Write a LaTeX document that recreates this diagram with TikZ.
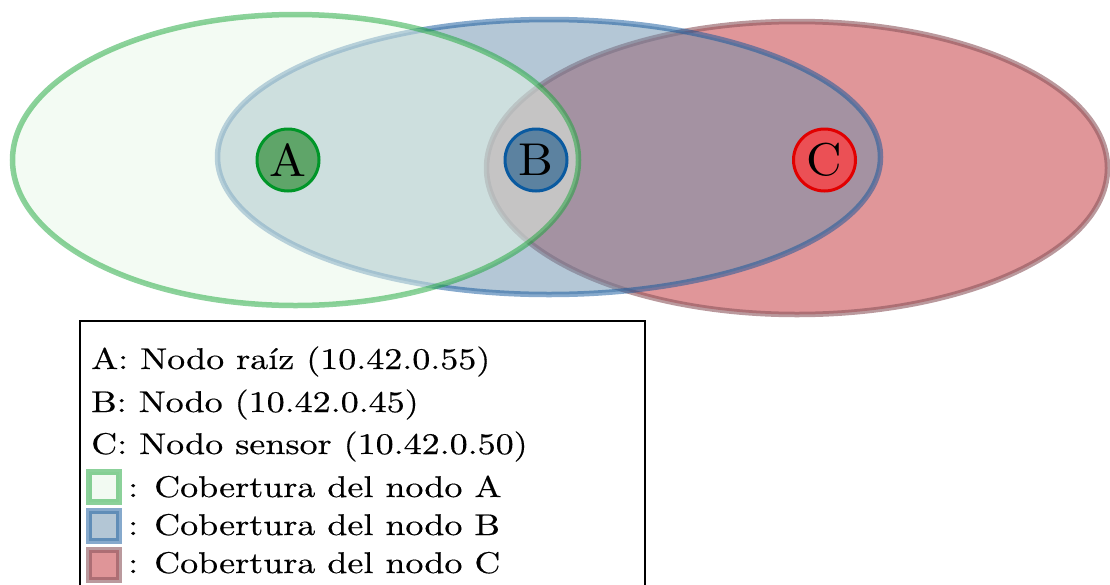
\documentclass[tikz,border=0pt]{standalone}
\usepackage{fontspec}
\setmainfont{lmroman10-regular.otf}[FakeStretch=1.2,FakeBold=0.4]
\newfontfamily\letterfont{lmroman10-regular.otf}[FakeStretch=1.07]
\usetikzlibrary{shapes.geometric}

% coverage colours
\definecolor{fillA}{RGB}{231,247,231}
\definecolor{drawA}{RGB}{25,165,55}
\definecolor{fillB}{RGB}{105,143,173}
\definecolor{drawB}{RGB}{15,85,155}
\definecolor{fillC}{RGB}{193,45,51}
\definecolor{drawC}{RGB}{140,85,92}
% node colours
\definecolor{nodeAfill}{RGB}{95,165,105}
\definecolor{nodeAdraw}{RGB}{0,150,40}
\definecolor{nodeBfill}{RGB}{92,130,160}
\definecolor{nodeBdraw}{RGB}{10,90,160}
\definecolor{nodeCfill}{RGB}{235,80,85}
\definecolor{nodeCdraw}{RGB}{225,0,0}

\begin{document}
\begin{tikzpicture}[x=1pt,y=-1pt,
  cover/.style={line width=5.5pt, fill opacity=0.5, draw opacity=0.5},
  coverA/.style={cover, fill=fillA, draw=drawA},
  coverB/.style={cover, fill=fillB, draw=drawB},
  coverC/.style={cover, fill=fillC, draw=drawC, draw opacity=0.6},
  swatch/.style={line width=6pt},
  netnode/.style={circle, line width=3pt, minimum size=62pt, inner sep=0pt,
    font=\letterfont\fontsize{46}{46}\selectfont},
  legendtext/.style={anchor=base west, inner sep=0pt,
    font=\fontsize{30}{36}\selectfont}]
\useasboundingbox (0,0) rectangle (1110,584);
\clip (0,0) rectangle (1110,584);

% coverage areas, drawn from C to A
\path[coverC] (797,168) ellipse [x radius=310.5pt, y radius=146.5pt];
\path[coverB] (549,157) ellipse [x radius=331.5pt, y radius=137.5pt];
\path[coverA] (295.5,160) ellipse [x radius=283pt, y radius=145.5pt];

% network nodes
\node[netnode, fill=nodeAfill, draw=nodeAdraw] (A) at (288,160) {A};
\node[netnode, fill=nodeBfill, draw=nodeBdraw] (B) at (536,160) {B};
\node[netnode, fill=nodeCfill, draw=nodeCdraw] (C) at (824.5,160) {C};

% legend
\draw[line width=1.5pt, fill=white] (80,321) rectangle (645,640);
\node[legendtext] (l1) at (91,369) {A: Nodo raíz (10.42.0.55)};
\node[legendtext] (l2) at (91,412) {B: Nodo (10.42.0.45)};
\node[legendtext] (l3) at (91,454) {C: Nodo sensor (10.42.0.50)};
\path[coverA, swatch] (89,472) rectangle (118.5,501.5);
\path[coverB, swatch] (89,511) rectangle (118.5,540.5);
\path[coverC, swatch] (89,550) rectangle (118.5,579.5);
\node[legendtext] (l4) at (128,497) {: Cobertura del nodo A};
\node[legendtext] (l5) at (128,535) {: Cobertura del nodo B};
\node[legendtext] (l6) at (128,573) {: Cobertura del nodo C};
\end{tikzpicture}
\end{document}
